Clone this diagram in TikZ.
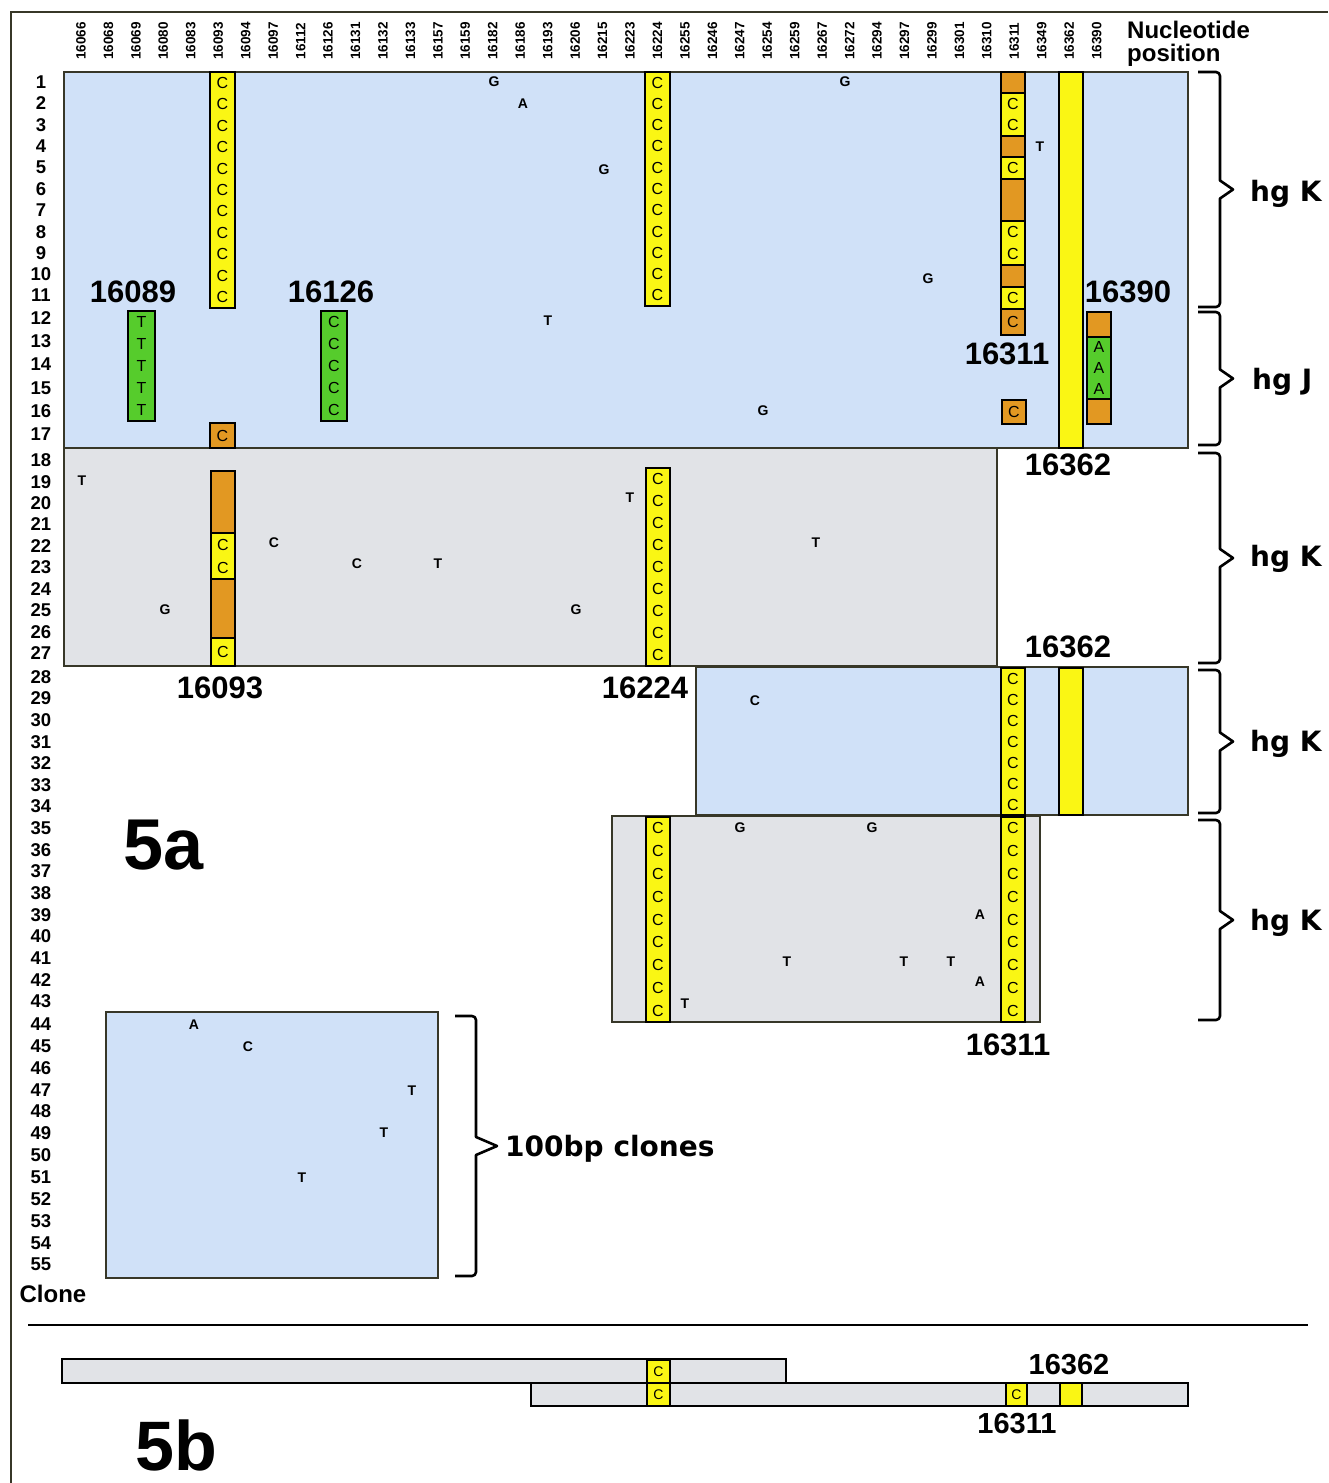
\documentclass[tikz,border=0pt]{standalone}
\usepackage{fontspec}
\setmainfont{Liberation Sans}
\newfontfamily\djv{DejaVu Sans}
\definecolor{bluebg}{RGB}{208,225,248}
\definecolor{graybg}{RGB}{225,227,231}
\definecolor{yel}{RGB}{250,246,20}
\definecolor{org}{RGB}{226,152,34}
\definecolor{grn}{RGB}{86,204,44}
\definecolor{framec}{RGB}{55,55,40}
\tikzset{
  block/.style={draw=framec, line width=2pt},
  seg/.style={draw=black, line width=2.2pt},
  hdr/.style={font=\fontsize{13.5}{14}\selectfont\bfseries, rotate=90, inner sep=0},
  rown/.style={font=\fontsize{18.5}{19}\selectfont\bfseries, inner sep=0},
  mut/.style={font=\fontsize{14}{14}\selectfont\bfseries, inner sep=0},
  inl/.style={font=\fontsize{16}{16}\selectfont, inner sep=0},
  poslab/.style={font=\fontsize{31}{31}\selectfont\bfseries, inner sep=0},
  hglab/.style={font=\djv\fontsize{28}{28}\selectfont\bfseries, inner sep=0, anchor=base west},
  bracepath/.style={draw=black, line width=2.6pt, line join=round},
  barbox/.style={draw=black, line width=1.8pt, fill=graybg},
}
\newcommand\segbox[8]{%
  \path[seg, fill=#6] (#2,#4) rectangle (#3,#5);
  \ifnum#7>0
    \foreach \k in {1,...,#7}{
      \node[inl] (#1-\k) at ({(#2+#3)/2},{#4+(\k-0.5)*(#5-#4)/#7}) {#8};
    }%
  \fi
}
\newcommand\hbrace[5]{%
  \draw[bracepath] (#1,#4) -- ({#2-4},#4) to[out=0,in=90] (#2,{#4+4})
    -- (#2,{(#4+#5)/2-9}) -- (#3,{(#4+#5)/2}) -- (#2,{(#4+#5)/2+9})
    -- (#2,{#5-4}) to[out=-90,in=0] ({#2-4},#5) -- (#1,#5);
}
\begin{document}
\begin{tikzpicture}[x=1pt,y=-1pt]
\useasboundingbox (0,0) rectangle (1328,1483);
\fill[white] (0,0) rectangle (1328,1483);
% outer frame
\draw[framec, line width=2.5pt] (11,1483) -- (11,12) -- (1328,12);
% header
\foreach \lab [count=\i from 0] in {16066,16068,16069,16080,16083,16093,16094,16097,16112,16126,16131,16132,16133,16157,16159,16182,16186,16193,16206,16215,16223,16224,16255,16246,16247,16254,16259,16267,16272,16294,16297,16299,16301,16310,16311,16349,16362,16390}
  \node[hdr] (h\i) at ({81+27.45*\i},41) {\lab};
\node[font=\fontsize{24}{24}\selectfont\bfseries, inner sep=0, anchor=west] (nuc) at (1127,30) {Nucleotide};
\node[font=\fontsize{24}{24}\selectfont\bfseries, inner sep=0, anchor=west] (posi) at (1127,55) {position};
% row numbers
\foreach \r/\yy in {1/82,2/103,3/125,4/146,5/167,6/189,7/210,8/232,9/253,10/274,11/295,12/318,13/341,14/364,15/388,16/411,17/434,18/460,19/482,20/503,21/524,22/546,23/567,24/589,25/610,26/632,27/653,28/677,29/698,30/720,31/742,32/763,33/785,34/806,35/828,36/850,37/871,38/893,39/915,40/936,41/958,42/980,43/1001,44/1024,45/1046,46/1068,47/1090,48/1111,49/1133,50/1155,51/1177,52/1199,53/1221,54/1243,55/1264}
  \node[rown] (r\r) at (41,\yy) {\r};
\node[font=\fontsize{24}{24}\selectfont\bfseries, inner sep=0] (clone) at (53,1294) {Clone};
% blocks
\path[block, fill=bluebg] (64,72) rectangle (1188,448);
\path[block, fill=graybg] (64,448) rectangle (997,666);
\path[block, fill=bluebg] (696,667) rectangle (1188,815);
\path[block, fill=graybg] (612,816) rectangle (1040,1022);
\path[block, fill=bluebg] (106,1012) rectangle (438,1278);
% block 1 columns
\segbox{a93}{210}{235}{72}{308}{yel}{11}{C}
\segbox{a93b}{210}{235}{423}{448}{org}{1}{C}
\segbox{a69}{128}{155}{311}{421}{grn}{5}{T}
\segbox{a126}{321}{347}{311}{421}{grn}{5}{C}
\segbox{a224}{645}{670}{72}{306}{yel}{11}{C}
\segbox{a311a}{1001}{1025}{72}{93}{org}{0}{}
\segbox{a311b}{1001}{1025}{93}{136}{yel}{2}{C}
\segbox{a311c}{1001}{1025}{136}{157}{org}{0}{}
\segbox{a311d}{1001}{1025}{157}{179}{yel}{1}{C}
\segbox{a311e}{1001}{1025}{179}{221}{org}{0}{}
\segbox{a311f}{1001}{1025}{221}{265}{yel}{2}{C}
\segbox{a311g}{1001}{1025}{265}{287}{org}{0}{}
\segbox{a311h}{1001}{1025}{287}{309}{yel}{1}{C}
\segbox{a311i}{1001}{1025}{309}{335}{org}{1}{C}
\segbox{a311j}{1002}{1026}{400}{424}{org}{1}{C}
\segbox{a362}{1059}{1083}{72}{448}{yel}{0}{}
\segbox{a390a}{1087}{1111}{312}{337}{org}{0}{}
\segbox{a390b}{1087}{1111}{337}{399}{grn}{3}{A}
\segbox{a390c}{1087}{1111}{399}{424}{org}{0}{}
% block 2 columns
\segbox{b93a}{211}{235}{471}{533}{org}{0}{}
\segbox{b93b}{211}{235}{533}{579}{yel}{2}{C}
\segbox{b93c}{211}{235}{579}{638}{org}{0}{}
\segbox{b93d}{211}{235}{638}{666}{yel}{1}{C}
\segbox{b224}{646}{670}{468}{666}{yel}{9}{C}
% block 3 columns
\segbox{c311}{1001}{1025}{668}{815}{yel}{7}{C}
\segbox{c362}{1059}{1083}{668}{815}{yel}{0}{}
% block 4 columns
\segbox{d224}{646}{670}{817}{1022}{yel}{9}{C}
\segbox{d311}{1001}{1025}{817}{1022}{yel}{9}{C}
% single mutations
\foreach \lx/\ly/\lt [count=\n] in {494/82/G,523/104/A,604/170/G,548/321/T,845/82/G,928/279/G,763/411/G,1040/147/T,
  82/481/T,274/543/C,357/564/C,438/564/T,165/610/G,576/610/G,630/498/T,816/543/T,
  755/701/C,
  740/828/G,872/828/G,980/915/A,787/962/T,904/962/T,951/962/T,980/982/A,685/1004/T,
  194/1025/A,248/1047/C,412/1091/T,384/1133/T,302/1178/T}
  \node[mut] (m\n) at (\lx,\ly) {\lt};
% position labels
\node[poslab] (p16089) at (133,292) {16089};
\node[poslab] (p16126) at (331,292) {16126};
\node[poslab] (p16390) at (1128,292) {16390};
\node[poslab] (p16311a) at (1007,354) {16311};
\node[poslab] (p16362a) at (1068,465) {16362};
\node[poslab] (p16362b) at (1068,647) {16362};
\node[poslab] (p16093) at (220,688) {16093};
\node[poslab] (p16224) at (645,688) {16224};
\node[poslab] (p16311b) at (1008,1045) {16311};
% braces
\hbrace{1198}{1220}{1233}{72}{307}
\hbrace{1198}{1220}{1233}{312}{445}
\hbrace{1198}{1220}{1233}{453}{663}
\hbrace{1198}{1220}{1233}{670}{813}
\hbrace{1198}{1220}{1233}{820}{1020}
\hbrace{455}{476}{497}{1016}{1276}
\node[hglab] (hg1) at (1250,201) {hg K};
\node[hglab] (hg2) at (1252,389) {hg J};
\node[hglab] (hg3) at (1250,566) {hg K};
\node[hglab] (hg4) at (1250,751) {hg K};
\node[hglab] (hg5) at (1250,930) {hg K};
\node[hglab] (bp) at (505,1156) {100bp clones};
\node[font=\fontsize{72}{72}\selectfont\bfseries, inner sep=0] (fa) at (164,845) {5a};
% separator
\draw[black, line width=2.5pt] (28,1325) -- (1308,1325);
% 5b
\path[barbox] (62,1359) rectangle (786,1383);
\path[barbox] (531,1383) rectangle (1188,1406);
\begin{scope}[seg/.append style={line width=1.6pt}, inl/.append style={font=\fontsize{14}{14}\selectfont}]
\segbox{e1}{647}{670}{1360}{1383}{yel}{1}{C}
\segbox{e2}{647}{670}{1383}{1406}{yel}{1}{C}
\segbox{e3}{1006}{1027}{1383}{1406}{yel}{1}{C}
\segbox{e4}{1060}{1082}{1383}{1406}{yel}{0}{}
\end{scope}
\node[font=\fontsize{29}{29}\selectfont\bfseries, inner sep=0] (q16362) at (1069,1365) {16362};
\node[font=\fontsize{29}{29}\selectfont\bfseries, inner sep=0] (q16311) at (1017,1424) {16311};
\node[font=\fontsize{70}{70}\selectfont\bfseries, inner sep=0] (fb) at (176,1445) {5b};
\end{tikzpicture}
\end{document}
